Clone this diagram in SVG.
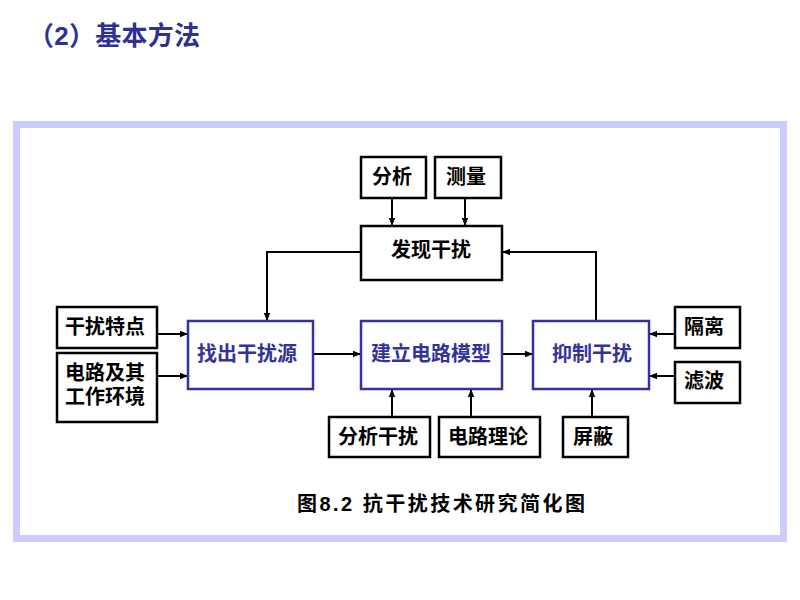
<svg xmlns="http://www.w3.org/2000/svg" width="800" height="600" viewBox="0 0 800 600">
<defs>
<style>
.t{font-family:"Liberation Sans","Noto Sans CJK SC",sans-serif;font-weight:bold;font-size:20px;fill:#000;text-anchor:middle}
.b{font-family:"Liberation Sans","Noto Sans CJK SC",sans-serif;font-weight:bold;font-size:20px;fill:#333399;text-anchor:middle}
.box{fill:#fff;stroke:#000;stroke-width:2.5}
.bbox{fill:#fff;stroke:#333399;stroke-width:2.5}
.c{fill:none;stroke:#000;stroke-width:2}
</style>
<marker id="ah" viewBox="0 0 10 10" refX="10" refY="5" markerWidth="4" markerHeight="4" orient="auto" markerUnits="strokeWidth">
<path d="M0,1 L10,5 L0,9 z" fill="#000"/>
</marker>
</defs>
<rect width="800" height="600" fill="#fff"/>
<text x="28" y="45" font-family="'Liberation Sans','Noto Sans CJK SC',sans-serif" font-weight="bold" font-size="26" fill="#2E3192" textLength="172" lengthAdjust="spacing">（2）基本方法</text>
<rect x="16.5" y="124.5" width="767" height="414" fill="#fff" stroke="#CCCCFF" stroke-width="7"/>
<g id="connectors">
<line class="c" x1="392" y1="198" x2="392" y2="226" marker-end="url(#ah)"/>
<line class="c" x1="465" y1="198" x2="465" y2="226" marker-end="url(#ah)"/>
<polyline class="c" points="361,252 267,252 267,321" marker-end="url(#ah)"/>
<polyline class="c" points="596,321 596,252 502,252" marker-end="url(#ah)"/>
<line class="c" x1="157" y1="334" x2="188" y2="334" marker-end="url(#ah)"/>
<line class="c" x1="157" y1="376" x2="188" y2="376" marker-end="url(#ah)"/>
<line class="c" x1="313" y1="354" x2="361" y2="354" marker-end="url(#ah)"/>
<line class="c" x1="502" y1="354" x2="533" y2="354" marker-end="url(#ah)"/>
<line class="c" x1="675" y1="334" x2="649" y2="334" marker-end="url(#ah)"/>
<line class="c" x1="675" y1="376" x2="649" y2="376" marker-end="url(#ah)"/>
<line class="c" x1="392" y1="417" x2="392" y2="389" marker-end="url(#ah)"/>
<line class="c" x1="471" y1="417" x2="471" y2="389" marker-end="url(#ah)"/>
<line class="c" x1="592" y1="417" x2="592" y2="389" marker-end="url(#ah)"/>
</g>
<g id="n_fenxi"><rect class="box" x="361" y="157" width="65" height="41"/><text class="t" x="392" y="184">分析</text></g>
<g id="n_celiang"><rect class="box" x="435" y="157" width="66" height="41"/><text class="t" x="466" y="184">测量</text></g>
<g id="n_faxian"><rect class="box" x="361" y="226" width="141" height="54"/><text class="t" x="431" y="257">发现干扰</text></g>
<g id="n_tedian"><rect class="box" x="57" y="307" width="100" height="41"/><text class="t" x="105" y="334">干扰特点</text></g>
<g id="n_huanjing"><rect class="box" x="57" y="353" width="100" height="69"/><text class="t" x="105" y="380">电路及其</text><text class="t" x="105" y="404">工作环境</text></g>
<g id="n_zhaochu"><rect class="bbox" x="188" y="321" width="125" height="68"/><text class="b" x="247" y="361">找出干扰源</text></g>
<g id="n_jianli"><rect class="bbox" x="361" y="321" width="141" height="68"/><text class="b" x="431" y="361">建立电路模型</text></g>
<g id="n_yizhi"><rect class="bbox" x="533" y="321" width="116" height="68"/><text class="b" x="592" y="361">抑制干扰</text></g>
<g id="n_geli"><rect class="box" x="675" y="307" width="65" height="41"/><text class="t" x="704" y="334">隔离</text></g>
<g id="n_lvbo"><rect class="box" x="675" y="362" width="65" height="41"/><text class="t" x="704" y="388">滤波</text></g>
<g id="n_fenxiganrao"><rect class="box" x="329" y="417" width="101" height="40"/><text class="t" x="378" y="444">分析干扰</text></g>
<g id="n_lilun"><rect class="box" x="439" y="417" width="101" height="40"/><text class="t" x="488" y="444">电路理论</text></g>
<g id="n_pingbi"><rect class="box" x="563" y="417" width="65" height="40"/><text class="t" x="593" y="444">屏蔽</text></g>
<text class="t" x="441" y="511" font-size="21" textLength="288" lengthAdjust="spacing">图8.2 抗干扰技术研究简化图</text>
</svg>
